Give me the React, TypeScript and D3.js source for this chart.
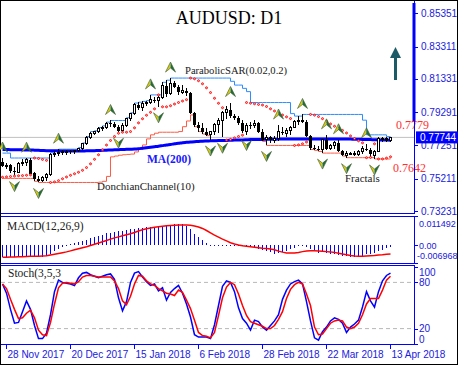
import * as d3 from "d3";

// AUDUSD daily bars, 27 Nov 2017 .. 13 Apr 2018
const dates = [
  "2017-11-27", "2017-11-28", "2017-11-29", "2017-11-30", "2017-12-01",
  "2017-12-04", "2017-12-05", "2017-12-06", "2017-12-07", "2017-12-08",
  "2017-12-11", "2017-12-12", "2017-12-13", "2017-12-14", "2017-12-15",
  "2017-12-18", "2017-12-19", "2017-12-20", "2017-12-21", "2017-12-22",
  "2017-12-26", "2017-12-27", "2017-12-28", "2017-12-29",
  "2018-01-02", "2018-01-03", "2018-01-04", "2018-01-05",
  "2018-01-08", "2018-01-09", "2018-01-10", "2018-01-11", "2018-01-12",
  "2018-01-15", "2018-01-16", "2018-01-17", "2018-01-18", "2018-01-19",
  "2018-01-22", "2018-01-23", "2018-01-24", "2018-01-25", "2018-01-26",
  "2018-01-29", "2018-01-30", "2018-01-31", "2018-02-01", "2018-02-02",
  "2018-02-05", "2018-02-06", "2018-02-07", "2018-02-08", "2018-02-09",
  "2018-02-12", "2018-02-13", "2018-02-14", "2018-02-15", "2018-02-16",
  "2018-02-19", "2018-02-20", "2018-02-21", "2018-02-22", "2018-02-23",
  "2018-02-26", "2018-02-27", "2018-02-28", "2018-03-01", "2018-03-02",
  "2018-03-05", "2018-03-06", "2018-03-07", "2018-03-08", "2018-03-09",
  "2018-03-12", "2018-03-13", "2018-03-14", "2018-03-15", "2018-03-16",
  "2018-03-19", "2018-03-20", "2018-03-21", "2018-03-22", "2018-03-23",
  "2018-03-26", "2018-03-27", "2018-03-28", "2018-03-29", "2018-03-30",
  "2018-04-02", "2018-04-03", "2018-04-04", "2018-04-05", "2018-04-06",
  "2018-04-09", "2018-04-10", "2018-04-11", "2018-04-12", "2018-04-13",
];

const open = [
  0.7625, 0.7600, 0.7605, 0.7568, 0.7562, 0.7612, 0.7622, 0.7638, 0.7555, 0.7520,
  0.7510, 0.7530, 0.7545, 0.7670, 0.7675, 0.7680, 0.7688, 0.7690, 0.7685, 0.7695,
  0.7705, 0.7735, 0.7772, 0.7800, 0.7808, 0.7828, 0.7835, 0.7860, 0.7855, 0.7840,
  0.7815, 0.7850, 0.7888, 0.7920, 0.7975, 0.7955, 0.7985, 0.7990, 0.8005, 0.8000,
  0.8020, 0.8090, 0.8045, 0.8105, 0.8085, 0.8050, 0.8060, 0.8045, 0.7925, 0.7850,
  0.7830, 0.7805, 0.7792, 0.7810, 0.7855, 0.7880, 0.7925, 0.7945, 0.7905, 0.7895,
  0.7865, 0.7812, 0.7850, 0.7845, 0.7860, 0.7810, 0.7760, 0.7775, 0.7758, 0.7765,
  0.7810, 0.7800, 0.7815, 0.7835, 0.7870, 0.7880, 0.7870, 0.7785, 0.7710, 0.7705,
  0.7700, 0.7760, 0.7705, 0.7725, 0.7740, 0.7690, 0.7665, 0.7675, 0.7678, 0.7668,
  0.7688, 0.7705, 0.7695, 0.7665, 0.7690, 0.7765, 0.7770, 0.7755,
];
const high = [
  0.7648, 0.7620, 0.7610, 0.7590, 0.7625, 0.7640, 0.7647, 0.7645, 0.7565, 0.7535,
  0.7540, 0.7555, 0.7680, 0.7690, 0.7702, 0.7695, 0.7698, 0.7700, 0.7700, 0.7712,
  0.7740, 0.7780, 0.7810, 0.7815, 0.7835, 0.7845, 0.7868, 0.7878, 0.7868, 0.7848,
  0.7860, 0.7895, 0.7925, 0.7985, 0.7990, 0.7995, 0.8000, 0.8035, 0.8020, 0.8030,
  0.8112, 0.8125, 0.8138, 0.8118, 0.8095, 0.8095, 0.8075, 0.8055, 0.7930, 0.7870,
  0.7865, 0.7830, 0.7815, 0.7862, 0.7895, 0.7935, 0.7965, 0.7988, 0.7920, 0.7905,
  0.7880, 0.7860, 0.7870, 0.7880, 0.7870, 0.7825, 0.7790, 0.7785, 0.7780, 0.7850,
  0.7835, 0.7830, 0.7842, 0.7880, 0.7905, 0.7915, 0.7880, 0.7790, 0.7730, 0.7720,
  0.7765, 0.7790, 0.7735, 0.7750, 0.7760, 0.7700, 0.7690, 0.7685, 0.7690, 0.7695,
  0.7720, 0.7735, 0.7710, 0.7695, 0.7775, 0.7778, 0.7779, 0.7775,
];
const low = [
  0.7590, 0.7580, 0.7555, 0.7540, 0.7555, 0.7600, 0.7600, 0.7545, 0.7505, 0.7498,
  0.7500, 0.7505, 0.7535, 0.7655, 0.7660, 0.7665, 0.7668, 0.7670, 0.7672, 0.7685,
  0.7700, 0.7728, 0.7765, 0.7790, 0.7800, 0.7812, 0.7825, 0.7840, 0.7830, 0.7806,
  0.7810, 0.7840, 0.7875, 0.7912, 0.7945, 0.7935, 0.7965, 0.7980, 0.7985, 0.7962,
  0.8010, 0.8020, 0.8035, 0.8075, 0.8035, 0.8040, 0.8030, 0.7915, 0.7840, 0.7810,
  0.7795, 0.7785, 0.7758, 0.7790, 0.7800, 0.7775, 0.7885, 0.7895, 0.7880, 0.7850,
  0.7800, 0.7792, 0.7825, 0.7830, 0.7800, 0.7750, 0.7725, 0.7740, 0.7740, 0.7755,
  0.7790, 0.7775, 0.7790, 0.7830, 0.7850, 0.7860, 0.7775, 0.7700, 0.7695, 0.7688,
  0.7678, 0.7700, 0.7695, 0.7705, 0.7685, 0.7660, 0.7650, 0.7665, 0.7660, 0.7660,
  0.7670, 0.7690, 0.7655, 0.7642, 0.7685, 0.7745, 0.7745, 0.7745,
];
const close = [
  0.7600, 0.7605, 0.7568, 0.7562, 0.7612, 0.7622, 0.7638, 0.7550, 0.7520, 0.7510,
  0.7530, 0.7545, 0.7670, 0.7675, 0.7680, 0.7688, 0.7690, 0.7685, 0.7695, 0.7705,
  0.7735, 0.7772, 0.7800, 0.7808, 0.7828, 0.7835, 0.7860, 0.7855, 0.7840, 0.7815,
  0.7850, 0.7888, 0.7920, 0.7975, 0.7955, 0.7985, 0.7990, 0.8005, 0.8000, 0.8020,
  0.8090, 0.8040, 0.8105, 0.8085, 0.8050, 0.8060, 0.8045, 0.7925, 0.7850, 0.7830,
  0.7805, 0.7792, 0.7810, 0.7855, 0.7880, 0.7925, 0.7945, 0.7905, 0.7895, 0.7865,
  0.7812, 0.7850, 0.7845, 0.7860, 0.7810, 0.7760, 0.7775, 0.7758, 0.7765, 0.7810,
  0.7800, 0.7815, 0.7835, 0.7870, 0.7880, 0.7870, 0.7785, 0.7710, 0.7705, 0.7700,
  0.7760, 0.7705, 0.7725, 0.7740, 0.7690, 0.7665, 0.7675, 0.7678, 0.7668, 0.7688,
  0.7705, 0.7695, 0.7670, 0.7690, 0.7765, 0.7770, 0.7755, 0.77744,
];

// bars before the visible window (only feed the channel)
const priorHigh = [0.7660, 0.7678, 0.7640, 0.7632, 0.7625, 0.7615, 0.7600, 0.7590, 0.7575, 0.7560, 0.7590, 0.7635, 0.7615, 0.7620];
const priorLow = [0.7615, 0.7630, 0.7600, 0.7590, 0.7570, 0.7560, 0.7545, 0.7530, 0.7523, 0.7535, 0.7540, 0.7565, 0.7575, 0.7585];

const ma200 = [
  0.7700, 0.7700, 0.7699, 0.7699, 0.7698, 0.7698, 0.7697, 0.7697, 0.7696, 0.7695,
  0.7694, 0.7693, 0.7693, 0.7692, 0.7692, 0.7691, 0.7691, 0.7691, 0.7691, 0.7691,
  0.7691, 0.7692, 0.7692, 0.7693, 0.7694, 0.7695, 0.7696, 0.7697, 0.7698, 0.7699,
  0.7700, 0.7701, 0.7702, 0.7703, 0.7705, 0.7708, 0.7711, 0.7714, 0.7717, 0.7720,
  0.7724, 0.7728, 0.7731, 0.7735, 0.7738, 0.7742, 0.7744, 0.7746, 0.7748, 0.7749,
  0.7751, 0.7752, 0.7753, 0.7754, 0.7755, 0.7756, 0.7756, 0.7757, 0.7758, 0.7759,
  0.7759, 0.7760, 0.7761, 0.7761, 0.7762, 0.7762, 0.7763, 0.7763, 0.7763, 0.7764,
  0.7764, 0.7764, 0.7765, 0.7765, 0.7765, 0.7765, 0.7765, 0.7765, 0.7765, 0.7765,
  0.7765, 0.7765, 0.7765, 0.7765, 0.7765, 0.7765, 0.7764, 0.7764, 0.7763, 0.7763,
  0.7762, 0.7762, 0.7761, 0.7760, 0.7759, 0.7758, 0.7758, 0.7757,
];

const fractalUp = [0, 6, 14, 27, 37, 42, 57, 69, 75, 81, 84, 91];
const fractalDown = [3, 9, 29, 39, 52, 55, 61, 66, 80, 86, 93];

const macdMain = [
  -0.0045, -0.0045, -0.0046, -0.0046, -0.0045, -0.0045, -0.0044, -0.0045, -0.0046, -0.0047,
  -0.0046, -0.0042, -0.0034, -0.0022, -0.0015, -0.0008, -0.0003, 0.0003, 0.0008, 0.0011,
  0.0016, 0.0022, 0.0028, 0.0033, 0.0038, 0.0042, 0.0047, 0.0050, 0.0053, 0.0055,
  0.0057, 0.0060, 0.0063, 0.0065, 0.0067, 0.0069, 0.0071, 0.0072, 0.0073, 0.0074,
  0.0076, 0.0077, 0.0080, 0.0082, 0.0085, 0.0082, 0.0075, 0.0062, 0.0046, 0.0034,
  0.0020, 0.0008, 0.0002, 0.0001, 0.0001, 0.0002, 0.0002, 0.0002, 0.0001, 0.0000,
  -0.0001, -0.0005, -0.0008, -0.0011, -0.0015, -0.0018, -0.0021, -0.0026, -0.0033, -0.0032,
  -0.0028, -0.0022, -0.0015, -0.0009, -0.0004, -0.0003, -0.0007, -0.0014, -0.0022, -0.0030,
  -0.0027, -0.0029, -0.0033, -0.0035, -0.0037, -0.0041, -0.0043, -0.0045, -0.0046, -0.0043,
  -0.0041, -0.0036, -0.0033, -0.0030, -0.0024, -0.0018, -0.0012, -0.0006,
];
const macdSignal = [
  -0.0047, -0.0047, -0.0046, -0.0046, -0.0045, -0.0045, -0.0044, -0.0043, -0.0043, -0.0043,
  -0.0042, -0.0041, -0.0038, -0.0035, -0.0032, -0.0029, -0.0026, -0.0022, -0.0018, -0.0014,
  -0.0010, -0.0006, -0.0001, 0.0004, 0.0009, 0.0014, 0.0019, 0.0024, 0.0029, 0.0033,
  0.0037, 0.0041, 0.0045, 0.0050, 0.0056, 0.0061, 0.0065, 0.0068, 0.0071, 0.0073,
  0.0075, 0.0077, 0.0078, 0.0079, 0.0080, 0.0080, 0.0080, 0.0079, 0.0076, 0.0072,
  0.0066, 0.0058, 0.0049, 0.0040, 0.0032, 0.0024, 0.0017, 0.0010, 0.0005, 0.0001,
  -0.0002, -0.0004, -0.0006, -0.0008, -0.0010, -0.0012, -0.0013, -0.0015, -0.0018, -0.0023,
  -0.0027, -0.0030, -0.0030, -0.0030, -0.0028, -0.0025, -0.0023, -0.0022, -0.0022, -0.0023,
  -0.0024, -0.0025, -0.0026, -0.0028, -0.0031, -0.0034, -0.0037, -0.0040, -0.0042, -0.0043,
  -0.0043, -0.0042, -0.0041, -0.0040, -0.0038, -0.0037, -0.0035, -0.0034,
];

const stochK = [
  78, 66, 45, 27, 28, 42, 56, 45, 24, 7, 7, 14, 38, 68, 83, 80, 79, 78, 76, 86,
  92, 93, 90, 88, 86, 88, 90, 91, 84, 60, 43, 55, 80, 92, 94, 87, 81, 76, 78, 69,
  73, 57, 67, 72, 76, 66, 52, 35, 12, 9, 9, 9, 7, 25, 50, 75, 82, 80, 68, 47,
  33, 27, 18, 31, 29, 22, 18, 24, 30, 38, 58, 70, 78, 81, 83, 78, 55, 30, 8, 5,
  16, 22, 30, 34, 32, 27, 15, 22, 26, 31, 48, 68, 56, 48, 68, 82, 89, 92,
];
const stochD = [
  78, 72, 58, 45, 33, 34, 40, 44, 34, 18, 12, 11, 28, 52, 73, 79, 80, 79, 78, 81,
  87, 89, 89, 88, 87, 87, 87, 87, 82, 72, 56, 51, 62, 78, 89, 88, 82, 78, 76, 72,
  69, 66, 65, 63, 70, 67, 57, 46, 31, 15, 11, 10, 8, 15, 37, 60, 74, 80, 77, 65,
  50, 37, 29, 27, 25, 23, 20, 20, 24, 32, 42, 59, 71, 77, 80, 78, 65, 50, 22, 12,
  13, 20, 27, 30, 31, 30, 22, 20, 22, 27, 38, 52, 59, 59, 59, 70, 83, 88,
];

const priceTicks = [0.85351, 0.83311, 0.81331, 0.79291, 0.77251, 0.75211, 0.73231];
const macdTicks = [0.011492, 0.0, -0.006968];
const stochTicks = [100, 80, 20, 0];
const dateTicks = ["2017-11-28", "2017-12-20", "2018-01-15", "2018-02-06", "2018-02-28", "2018-03-22", "2018-04-13"];

const channelHigh = 0.7779;
const channelLow = 0.7642;
const lastPrice = 0.77744;
const donchianPeriod = 15;
const psarStart = { up: true, sar: 0.753, ep: 0.7648, af: 0.02 };

const W = 458;
const H = 365;
const axisX = 414;
const BLUE = "#0000ff";
const AXIS_TXT = "#2020e0";
const SERIF = "'Liberation Serif', 'Times New Roman', serif";
const SANS = "'Liberation Sans', Arial, sans-serif";

function donchian() {
  const hs = [...priorHigh, ...high];
  const ls = [...priorLow, ...low];
  const off = priorHigh.length;
  return high.map((_, i) => {
    const a = Math.max(0, i + off - donchianPeriod + 1);
    const b = i + off + 1;
    return { up: d3.max(hs.slice(a, b)) as number, lo: d3.min(ls.slice(a, b)) as number };
  });
}

function parabolicSar() {
  let { up, sar, ep, af } = psarStart;
  const out = [sar];
  for (let i = 1; i < high.length; i++) {
    sar = sar + af * (ep - sar);
    if (up) {
      sar = Math.min(sar, low[i - 1], i > 1 ? low[i - 2] : low[i - 1]);
      if (low[i] < sar) {
        up = false; sar = ep; ep = low[i]; af = 0.02;
      } else if (high[i] > ep) {
        ep = high[i]; af = Math.min(af + 0.02, 0.2);
      }
    } else {
      sar = Math.max(sar, high[i - 1], i > 1 ? high[i - 2] : high[i - 1]);
      if (high[i] > sar) {
        up = true; sar = ep; ep = high[i]; af = 0.02;
      } else if (low[i] < ep) {
        ep = low[i]; af = Math.min(af + 0.02, 0.2);
      }
    }
    out.push(sar);
  }
  return out;
}

function UpFractal({ x, y }: { x: number; y: number }) {
  return (
    <g transform={`translate(${x},${y})`}>
      <polygon points="0,-5 0,1 -5,5" fill="#d8c818" />
      <polygon points="0,-5 5,5 0,1" fill="#1f6e3a" />
      <polygon points="0,-5 5,5 0,1 -5,5" fill="none" stroke="#3b5a2a" strokeWidth={0.6} />
    </g>
  );
}

function DownFractal({ x, y }: { x: number; y: number }) {
  return (
    <g transform={`translate(${x},${y})`}>
      <polygon points="0,5 0,-1 -5,-5" fill="#d8c818" />
      <polygon points="0,5 5,-5 0,-1" fill="#1f6e3a" />
      <polygon points="0,5 5,-5 0,-1 -5,-5" fill="none" stroke="#3b5a2a" strokeWidth={0.6} />
    </g>
  );
}

export default function App() {
  const n = close.length;
  const x = d3.scaleLinear().domain([0, n - 1]).range([2, 390]);
  const y = d3.scaleLinear().domain([0.73231, 0.85351]).range([211, 13.3]);
  const ym = d3.scaleLinear().domain([-0.006968, 0.011492]).range([263, 216]);
  const ys = d3.scaleLinear().domain([0, 100]).range([344, 267]);
  const parse = d3.timeParse("%Y-%m-%d");
  const fmt = d3.timeFormat("%-d %b %Y");
  const idx = d3.range(n);

  const ch = donchian();
  const sar = parabolicSar();

  const cx = (i: number) => x(i) + 0.5;
  const stepLine = (vals: number[]) =>
    d3.line<number>().x((_, i) => cx(i)).y((v) => y(v)).curve(d3.curveStepAfter)(vals) || "";
  const maPath = d3.line<number>().x((_, i) => cx(i)).y((v) => y(v)).curve(d3.curveMonotoneX)(ma200) || "";
  const sigPath = d3.line<number>().x((_, i) => cx(i)).y((v) => ym(v))(macdSignal) || "";
  const kPath = d3.line<number>().x((_, i) => cx(i)).y((v) => ys(v))(stochK) || "";
  const dPath = d3.line<number>().x((_, i) => cx(i)).y((v) => ys(v))(stochD) || "";

  return (
    <svg width={W} height={H} style={{ position: "absolute", left: 0, top: 0, background: "#fff" }}>
      <rect x={0.5} y={0.5} width={W - 1} height={H - 1} fill="#fff" stroke="#000" />

      {/* last price line */}
      <line x1={1} x2={axisX} y1={y(lastPrice)} y2={y(lastPrice)} stroke="#c0c0c0" />

      {/* Donchian channel */}
      <path d={stepLine(ch.map((c) => c.up))} fill="none" stroke="#2e8cff" strokeWidth={1} />
      <path d={stepLine(ch.map((c) => c.lo))} fill="none" stroke="#ff5b45" strokeWidth={1} />

      {/* MA(200) */}
      <path d={maPath} fill="none" stroke={BLUE} strokeWidth={3} />

      {/* candles */}
      <g shapeRendering="crispEdges">
        {idx.map((i) => {
          const bull = close[i] >= open[i];
          const top = y(Math.max(open[i], close[i]));
          const bot = y(Math.min(open[i], close[i]));
          return (
            <g key={i}>
              <line x1={cx(i)} x2={cx(i)} y1={y(high[i])} y2={y(low[i])} stroke="#000" />
              {bull ? (
                <rect x={cx(i) - 1} y={top} width={2} height={Math.max(bot - top, 1)} fill="#fff" stroke="#000" />
              ) : (
                <rect x={cx(i) - 1.5} y={top} width={3} height={Math.max(bot - top, 1)} fill="#000" />
              )}
            </g>
          );
        })}
      </g>

      {/* Parabolic SAR */}
      {sar.map((s, i) => (
        <circle key={i} cx={cx(i)} cy={y(s)} r={1} fill="#ffb4b4" stroke="#ff0000" strokeWidth={0.9} />
      ))}

      {/* fractals */}
      {fractalUp.map((i) => <UpFractal key={"u" + i} x={cx(i)} y={y(high[i]) - 11} />)}
      {fractalDown.map((i) => <DownFractal key={"d" + i} x={cx(i)} y={y(low[i]) + 11} />)}

      {/* labels in main panel */}
      <text x={229} y={23.5} textAnchor="middle" fontFamily={SERIF} fontSize={18} fill="#000">AUDUSD: D1</text>
      <text x={185} y={74} fontFamily={SERIF} fontSize={10.6} fill="#202020">ParabolicSAR(0.02,0.2)</text>
      <text x={147} y={163} fontFamily={SERIF} fontSize={11.5} fontWeight="bold" fill="#1a1aff">MA(200)</text>
      <text x={97} y={190} fontFamily={SERIF} fontSize={11} fill="#202020">DonchianChannel(10)</text>
      <text x={345} y={181.5} fontFamily={SERIF} fontSize={11} fill="#202020">Fractals</text>
      <text x={396} y={129} fontFamily={SERIF} fontSize={12} fill="#ff3030">{channelHigh.toFixed(4)}</text>
      <text x={393} y={172} fontFamily={SERIF} fontSize={12} fill="#ff3030">{channelLow.toFixed(4)}</text>

      {/* trend arrow */}
      <g fill="#1d5a67">
        <rect x={394} y={57} width={3} height={23} />
        <polygon points="390,58 401,58 395.5,47" />
      </g>

      {/* MACD */}
      <g shapeRendering="crispEdges">
        {idx.map((i) => (
          <rect key={i} x={Math.round(cx(i) - 0.5)} y={Math.min(ym(0), ym(macdMain[i]))}
            width={1} height={Math.max(Math.abs(ym(macdMain[i]) - ym(0)), 1)} fill={BLUE} />
        ))}
      </g>
      <path d={sigPath} fill="none" stroke="#ff0000" strokeWidth={1.5} />
      <text x={7} y={230} fontFamily={SERIF} fontSize={11.5} fill="#202020">MACD(12,26,9)</text>

      {/* Stochastic */}
      {[80, 20].map((v) => (
        <line key={v} x1={1} x2={axisX} y1={ys(v)} y2={ys(v)} stroke="#b8b8b8" strokeDasharray="4,3" />
      ))}
      <path d={kPath} fill="none" stroke={BLUE} strokeWidth={1.5} />
      <path d={dPath} fill="none" stroke="#ff0000" strokeWidth={1.5} />
      <text x={8} y={277} fontFamily={SERIF} fontSize={11.5} fill="#202020">Stoch(3,5,3</text>

      {/* panel frames */}
      <g stroke={BLUE} fill="none" shapeRendering="crispEdges">
        <line x1={1} x2={axisX + 1} y1={213.5} y2={213.5} />
        <line x1={1} x2={axisX + 1} y1={216.5} y2={216.5} />
        <line x1={1} x2={axisX + 1} y1={263.5} y2={263.5} />
        <line x1={1} x2={axisX + 1} y1={265.5} y2={265.5} />
        <line x1={1} x2={axisX + 1} y1={344.5} y2={344.5} />
        <line x1={axisX + 0.5} x2={axisX + 0.5} y1={1} y2={213.5} />
        <line x1={axisX + 0.5} x2={axisX + 0.5} y1={216.5} y2={263.5} />
        <line x1={axisX + 0.5} x2={axisX + 0.5} y1={265.5} y2={344.5} />
      </g>
      <rect x={412.5} y={3} width={3} height={118} fill={BLUE} />

      {/* price axis */}
      {priceTicks.map((v) => (
        <g key={v}>
          <line x1={axisX} x2={axisX + 4} y1={Math.round(y(v)) + 0.5} y2={Math.round(y(v)) + 0.5} stroke={BLUE} />
          <text x={421} y={y(v) + 3.5} fontFamily={SANS} fontSize={10} fill={AXIS_TXT}>{v.toFixed(5)}</text>
        </g>
      ))}
      <rect x={416} y={y(lastPrice) - 6} width={42} height={12} fill={BLUE} />
      <text x={420} y={y(lastPrice) + 3.8} fontFamily={SANS} fontSize={10} fill="#fff">{lastPrice.toFixed(5)}</text>

      {/* MACD axis */}
      {macdTicks.map((v) => {
        const ty = Math.min(Math.max(ym(v), 223), 255.5);
        const label = v === 0 ? "0.00" : v.toFixed(6);
        return (
          <g key={v}>
            <line x1={axisX} x2={axisX + 4} y1={Math.round(ym(v)) + 0.5} y2={Math.round(ym(v)) + 0.5} stroke={BLUE} />
            <text x={v < 0 ? 417 : 419} y={ty + 3.5} fontFamily={SANS} fontSize={9} fill={AXIS_TXT}>{label}</text>
          </g>
        );
      })}

      {/* Stoch axis */}
      {stochTicks.map((v) => {
        const ty = Math.min(Math.max(ys(v), 272), 339);
        return (
          <g key={v}>
            <line x1={axisX} x2={axisX + 4} y1={Math.round(ys(v)) + 0.5} y2={Math.round(ys(v)) + 0.5} stroke={BLUE} />
            <text x={419} y={ty + 3.5} fontFamily={SANS} fontSize={10} fill={AXIS_TXT}>{v}</text>
          </g>
        );
      })}

      {/* date axis */}
      {dateTicks.map((d) => {
        const i = dates.indexOf(d);
        const tx = Math.round(x(i)) + 0.5;
        return (
          <g key={d}>
            <line x1={tx} x2={tx} y1={345} y2={349} stroke={BLUE} />
            <text x={tx + 1} y={358} fontFamily={SANS} fontSize={10} fill={AXIS_TXT}>{fmt(parse(d) as Date)}</text>
          </g>
        );
      })}
    </svg>
  );
}
